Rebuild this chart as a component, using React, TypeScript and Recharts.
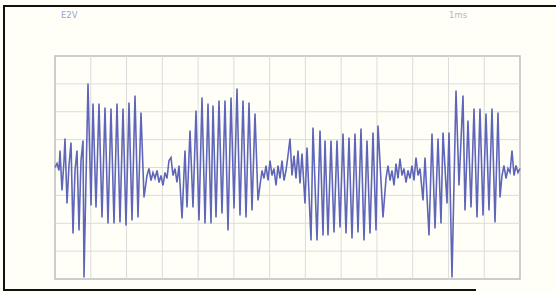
import { LineChart, Line, XAxis, YAxis, ReferenceLine, ReferenceArea } from "recharts"

// scope record: [sample index, amplitude in ADC counts]
// 13 horizontal divisions over 465 samples, 8 vertical divisions of ~27.9 counts
const SAMPLES = 465
const COUNTS_HALF = 111.5
const X_DIVS = 13
const Y_DIVS = 8

const lead: [number, number][] = [
  [0, 0], [2, 4], [4, -3], [5, 17], [7, -23], [9, 7], [10, 29], [12, -36], [14, 2],
  [16, 25], [18, -66], [20, -3], [22, 17], [24, -63], [26, 7], [28, 27], [29, -110],
]

const burst1: [number, number][] = [
  [33, 84], [36, -38], [38, 64], [41, -40], [44, 64], [47, -50], [50, 60], [53, -56],
  [56, 59], [59, -56], [62, 64], [65, -55], [68, 59], [71, -58], [74, 65], [77, -53],
  [80, 72], [83, -50], [86, 55], [89, -30],
]

const gap1: [number, number][] = [
  [92, -8], [94, -1], [96, -13], [98, -5], [100, -11], [102, -3], [104, -15], [106, -8],
  [108, -18], [110, -5], [112, -11], [114, 7], [116, 10], [118, -8], [120, -1], [122, -15],
  [124, 2],
]

const burst2: [number, number][] = [
  [127, -51], [130, 17], [132, -40], [135, 37], [138, -40], [141, 57], [144, -53], [147, 70],
  [150, -56], [153, 64], [156, -56], [158, 62], [161, -50], [164, 67], [167, -46], [170, 67],
  [173, -63], [176, 70], [179, -41], [182, 79], [185, -48], [188, 67], [191, -50], [194, 65],
  [197, -43], [200, 54], [203, -33],
]

const gap2: [number, number][] = [
  [205, -18], [207, -3], [209, -11], [211, 2], [213, -13], [215, 7], [217, -8], [219, -1],
  [221, -18], [223, 2], [225, -11], [227, 7], [229, -13], [231, -3], [233, 12], [235, 29],
  [237, -8], [239, 12], [241, -11], [243, 17], [245, -16], [247, 14],
]

const burst3: [number, number][] = [
  [250, -36], [252, 20], [256, -73], [258, 40], [262, -73], [265, 37], [268, -68], [270, 27],
  [273, -68], [276, 27], [279, -65], [282, 27], [285, -60], [288, 34], [291, -66], [294, 30],
  [297, -71], [300, 34], [303, -65], [306, 39], [309, -73], [312, 27], [315, -66], [318, 35],
  [321, -63], [323, 42], [328, -50],
]

const gap3: [number, number][] = [
  [331, -11], [333, 2], [335, -13], [337, -3], [339, -18], [341, 4], [343, -11], [345, 9],
  [347, -8], [349, -1], [351, -15], [353, -3], [355, -11], [357, 2], [359, -13], [361, 10],
  [363, -8], [365, -1],
]

const burst4: [number, number][] = [
  [368, -33], [370, 10], [374, -68], [377, 34], [380, -61], [383, 29], [386, -56], [388, 35],
  [392, -36], [394, 35], [397, -110], [401, 77], [404, -18], [408, 72], [410, -43], [413, 47],
  [416, -40], [419, 59], [422, -50], [425, 59], [428, -48], [431, 54], [434, -43], [437, 59],
  [440, -55], [443, 55], [445, -30],
]

const tail: [number, number][] = [
  [447, -8], [449, 2], [451, -11], [453, -1], [455, -5], [457, 17], [459, -8], [461, 2],
  [463, -5], [465, -1],
]

const channelLabel = "E2V"
const timebaseLabel = "1ms"

const data = [...lead, ...burst1, ...gap1, ...burst2, ...gap2, ...burst3, ...gap3, ...burst4, ...tail].map(
  ([s, c]) => ({ s, c })
)

// interior graticule lines
const xGrid = Array.from({ length: X_DIVS - 1 }, (_, i) => ((i + 1) * SAMPLES) / X_DIVS)
const yGrid = Array.from({ length: Y_DIVS - 1 }, (_, i) => -COUNTS_HALF + ((i + 1) * 2 * COUNTS_HALF) / Y_DIVS)

export default function App() {
  return (
    <div style={{ position: "absolute", left: 0, top: 0, width: 556, height: 293, background: "#fffff8", overflow: "hidden" }}>
      <div style={{ position: "absolute", left: 3, top: 5, width: 553, height: 2, background: "#111" }} />
      <div style={{ position: "absolute", left: 3, top: 5, width: 2, height: 286, background: "#111" }} />
      <div style={{ position: "absolute", left: 3, top: 289, width: 473, height: 2, background: "#111" }} />
      <div style={{ position: "absolute", left: 61, top: 10, fontFamily: "DejaVu Sans", fontSize: 8.5, color: "#9ea1de" }}>
        {channelLabel}
      </div>
      <div style={{ position: "absolute", left: 449, top: 10, fontFamily: "DejaVu Sans", fontSize: 8.5, color: "#c9aeb6" }}>
        {timebaseLabel}
      </div>
      <div style={{ position: "absolute", left: 0, top: 0 }}>
        <LineChart width={556} height={293} data={data} margin={{ top: 56, right: 36, bottom: 14, left: 55 }}>
          <XAxis dataKey="s" type="number" domain={[0, SAMPLES]} hide />
          <YAxis type="number" domain={[-COUNTS_HALF, COUNTS_HALF]} hide allowDataOverflow />
          {xGrid.map((x) => (
            <ReferenceLine key={`x${x}`} x={x} stroke="#dcdcdc" strokeWidth={1} />
          ))}
          {yGrid.map((y) => (
            <ReferenceLine key={`y${y}`} y={y} stroke="#dcdcdc" strokeWidth={1} />
          ))}
          <ReferenceArea x1={0} x2={SAMPLES} y1={-COUNTS_HALF} y2={COUNTS_HALF} fill="none" stroke="#bdbdbd" strokeWidth={1.5} />
          <Line
            dataKey="c"
            type="linear"
            stroke="#5f66b9"
            strokeWidth={1.6}
            dot={false}
            isAnimationActive={false}
          />
        </LineChart>
      </div>
    </div>
  )
}
